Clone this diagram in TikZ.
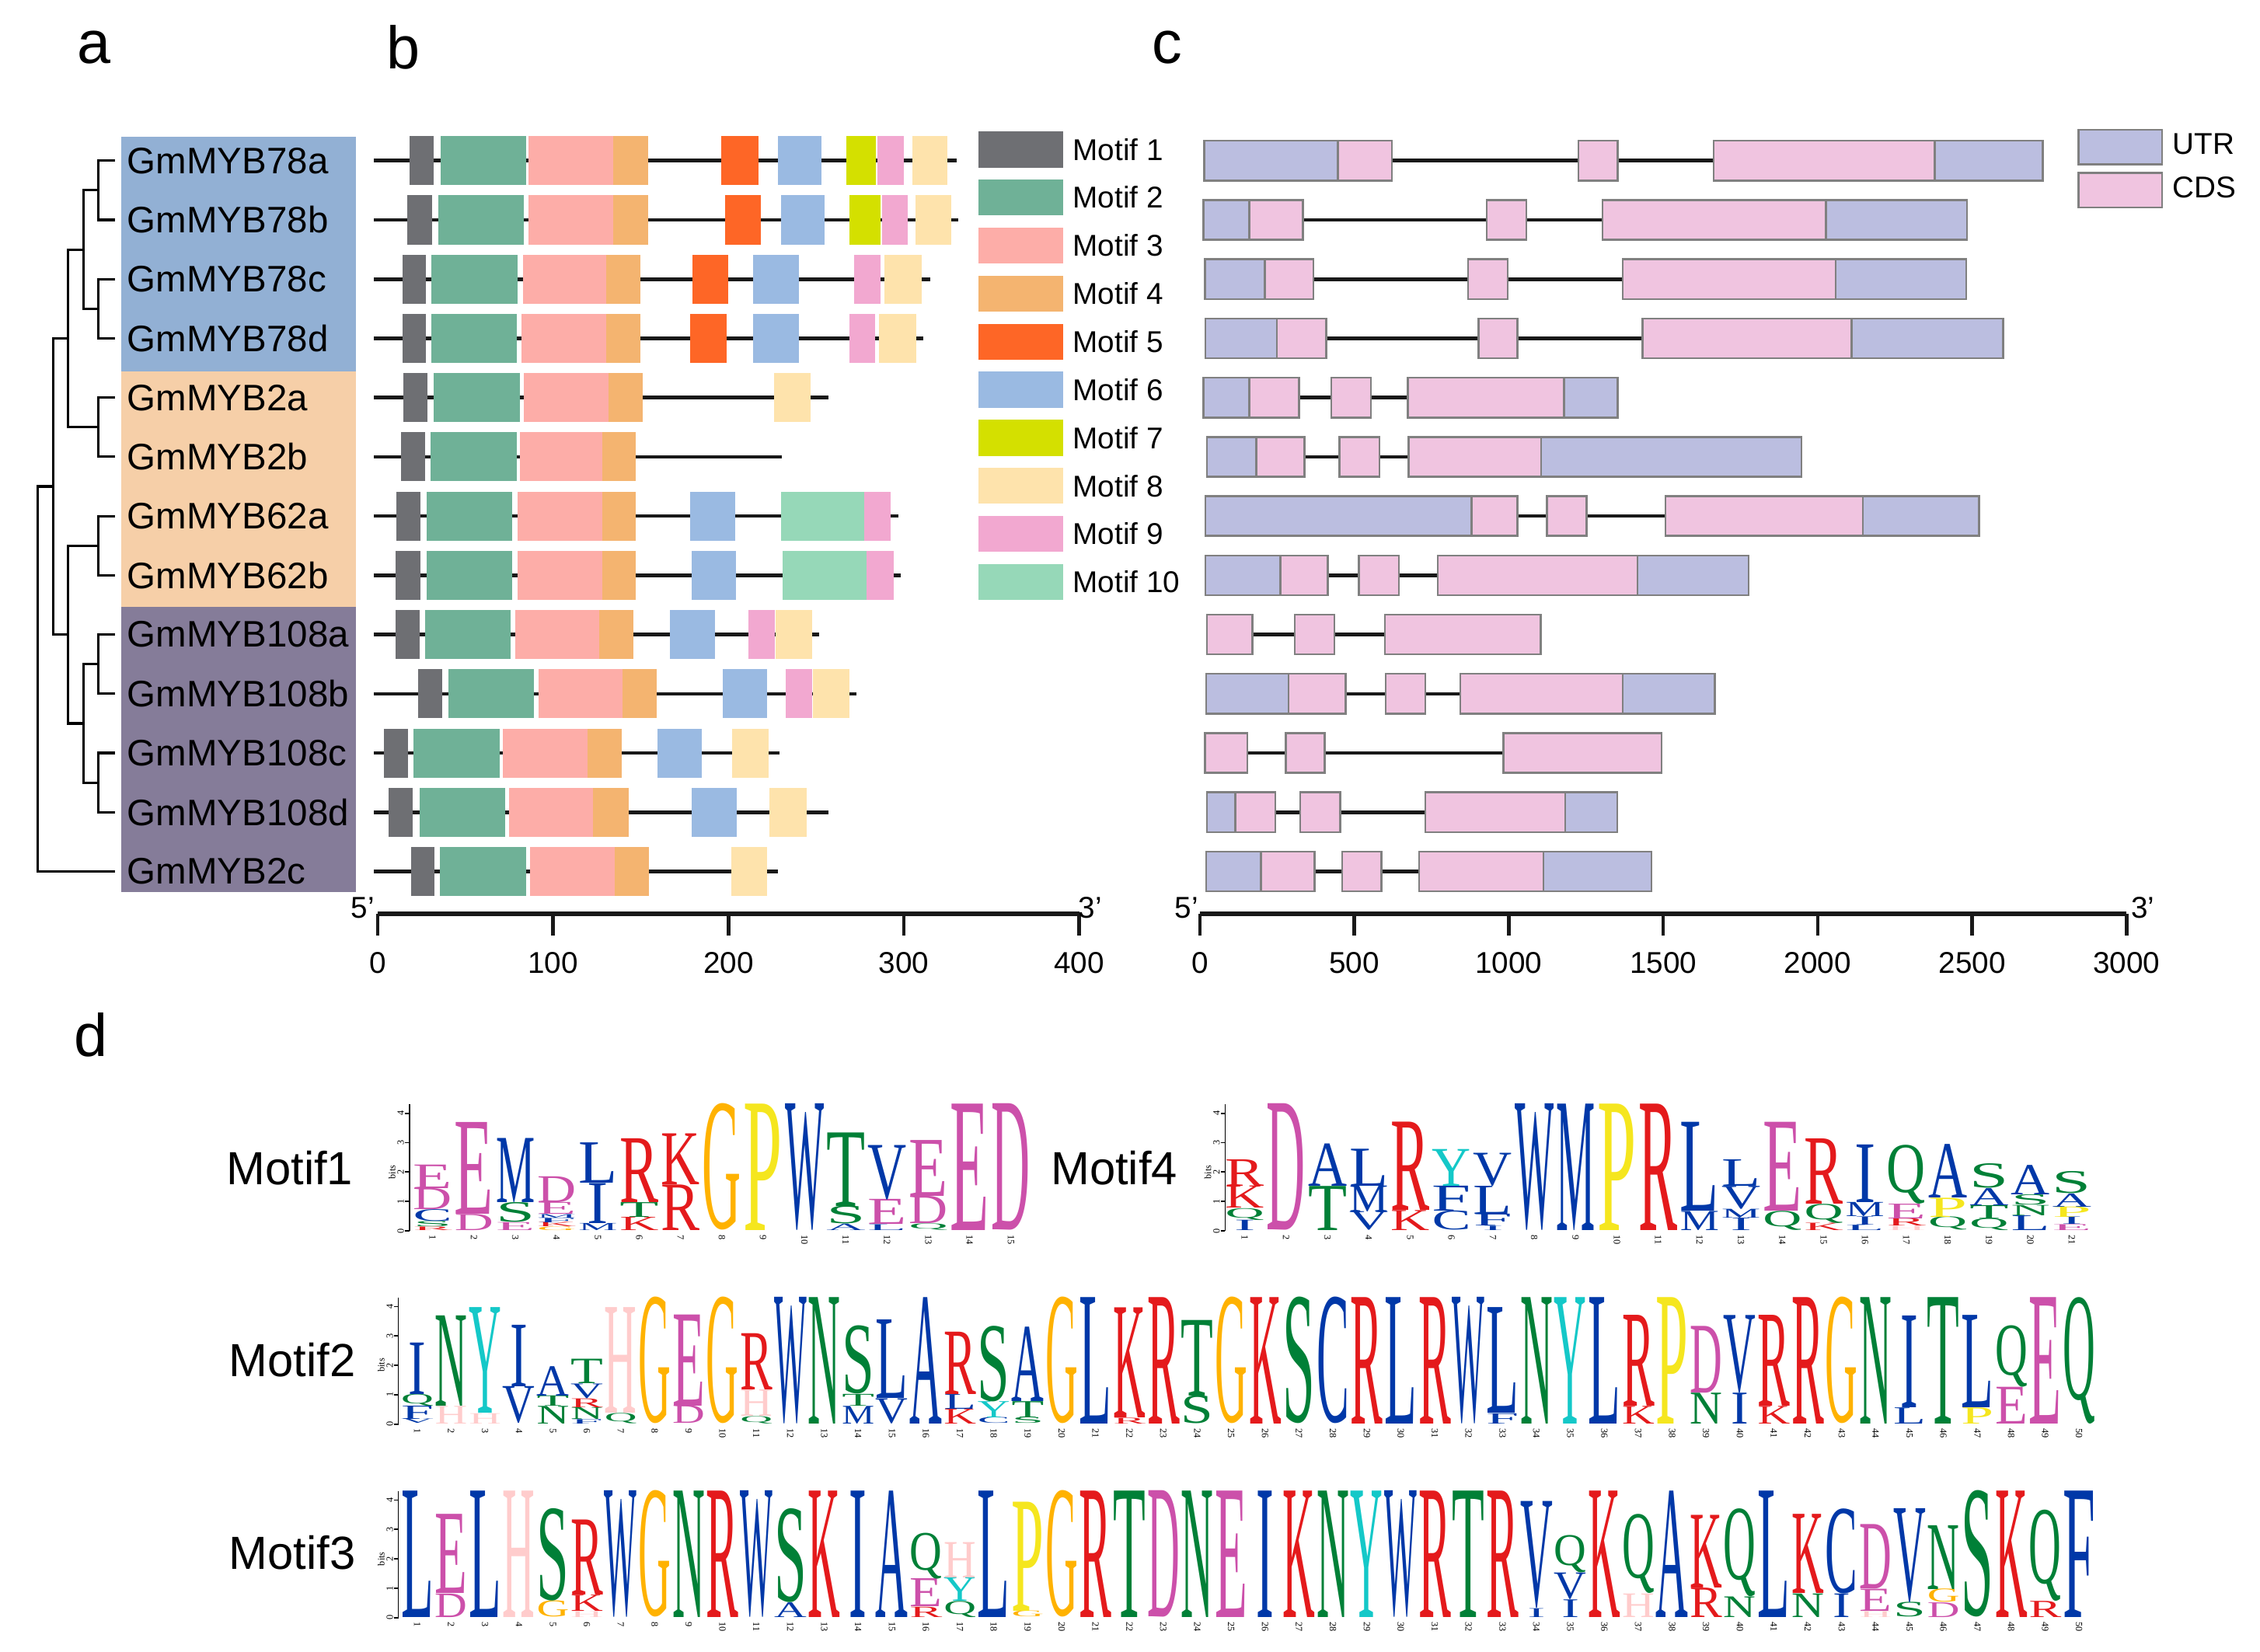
\documentclass[tikz,border=0pt]{standalone}
\usepackage{fontspec}
\setmainfont{Liberation Sans}
\newfontfamily\logofont{Liberation Serif}
\usepackage{graphicx}

% motif colours
\definecolor{motif1}{RGB}{110,111,115}
\definecolor{motif2}{RGB}{111,177,151}
\definecolor{motif3}{RGB}{253,173,168}
\definecolor{motif4}{RGB}{244,180,112}
\definecolor{motif5}{RGB}{254,102,38}
\definecolor{motif6}{RGB}{154,186,226}
\definecolor{motif7}{RGB}{212,224,0}
\definecolor{motif8}{RGB}{254,227,172}
\definecolor{motif9}{RGB}{242,168,208}
\definecolor{motif10}{RGB}{150,216,184}
\definecolor{utr}{RGB}{187,190,224}
\definecolor{cds}{RGB}{240,196,224}
\definecolor{cladeblue}{RGB}{146,176,212}
\definecolor{cladeorange}{RGB}{246,207,168}
\definecolor{cladepurple}{RGB}{133,124,153}
% residue colours
\definecolor{resblue}{RGB}{0,56,168}
\definecolor{resgreen}{RGB}{0,128,55}
\definecolor{resred}{RGB}{228,26,28}
\definecolor{respink}{RGB}{204,80,170}
\colorlet{aaA}{resblue}\colorlet{aaC}{resblue}\colorlet{aaF}{resblue}
\colorlet{aaI}{resblue}\colorlet{aaL}{resblue}\colorlet{aaM}{resblue}
\colorlet{aaV}{resblue}\colorlet{aaW}{resblue}
\colorlet{aaN}{resgreen}\colorlet{aaQ}{resgreen}\colorlet{aaS}{resgreen}\colorlet{aaT}{resgreen}
\colorlet{aaK}{resred}\colorlet{aaR}{resred}
\colorlet{aaD}{respink}\colorlet{aaE}{respink}
\definecolor{aaG}{RGB}{255,178,0}
\definecolor{aaP}{RGB}{245,230,30}
\definecolor{aaY}{RGB}{20,200,200}
\definecolor{aaH}{RGB}{255,204,204}

\newlength\colw
\newlength\bitlen
\setlength\bitlen{0.37834cm}
\def\padI{0.14em}
\newcommand\aaglyph[1]{\ifcsname pad#1\endcsname\hspace{\csname pad#1\endcsname}#1\hspace{\csname pad#1\endcsname}\else#1\fi}
\newcommand\logoat[3]{\gdef\lgx{#1}\gdef\lgy{#2}\gdef\lgdx{#3}}
% one logo column, letters from bottom to top
\newcommand\lc[2]{%
  \gdef\lcbase{0}%
  \foreach \ltr/\hgt in {#2}{%
    \node[anchor=south,inner sep=0pt,text=aa\ltr] at ({\lgx+(#1-1)*\lgdx},{\lgy-\lcbase*20.4})
      {\resizebox*{\colw}{\hgt\bitlen}{\logofont\aaglyph{\ltr}}};
    \pgfmathsetmacro\lcnext{\lcbase+\hgt}\xdef\lcbase{\lcnext}%
  }%
  \node[posnum] at ({\lgx+(#1-1)*\lgdx},{\lgy+2}) {#1};
}
\newcommand\logoaxis[1]{%
  \draw[logoaxis] (#1,\lgy) -- (#1,{\lgy-4.3*20.4});
  \foreach \b in {0,...,4}{
    \draw[logoaxis] (#1,{\lgy-\b*20.4}) -- ++(-3,0);
    \node[bitnum] at ({#1-6},{\lgy-\b*20.4}) {\b};
  }
  \node[bitnum] at ({#1-12},{\lgy-2*20.4}) {bits};
}

\tikzset{
  tree/.style={line width=0.9pt},
  gene/.style={anchor=west,inner sep=0pt,font=\fontsize{13.5}{16}\selectfont},
  intron/.style={line width=1.3pt,color=black!90},
  exon/.style={draw=black!50,line width=0.7pt},
  axisline/.style={line width=1.7pt,color=black!90},
  axistick/.style={line width=1.3pt,color=black!90},
  ticklabel/.style={font=\fontsize{11}{13}\selectfont,inner sep=0pt},
  legendtext/.style={anchor=west,inner sep=0pt,font=\fontsize{11}{13}\selectfont},
  panel/.style={font=\fontsize{22}{26}\selectfont,inner sep=0pt},
  logoname/.style={font=\fontsize{17}{20}\selectfont,inner sep=0pt},
  bitnum/.style={rotate=90,inner sep=0pt,font=\fontsize{3.5}{4}\logofont},
  posnum/.style={rotate=-90,anchor=west,inner sep=0.4pt,font=\fontsize{3.5}{4}\logofont},
  logoaxis/.style={line width=0.5pt}
}

\begin{document}
\begin{tikzpicture}[x=0.018546cm,y=-0.018546cm]
\useasboundingbox (0,0) rectangle (1568,1146);

% panel letters
\node[panel] (pa) at (65,33) {a};
\node[panel] (pb) at (280,33) {b};
\node[panel] (pc) at (810,33) {c};
\node[panel] (pd) at (63,718) {d};

% clade boxes
\fill[cladeblue] (84,95) rectangle (247,258);
\fill[cladeorange] (84,258) rectangle (247,421);
\fill[cladepurple] (84,421) rectangle (247,619);

% gene names and tree tips
\foreach \name [count=\i] in {GmMYB78a,GmMYB78b,GmMYB78c,GmMYB78d,GmMYB2a,GmMYB2b,GmMYB62a,GmMYB62b,GmMYB108a,GmMYB108b,GmMYB108c,GmMYB108d,GmMYB2c}{
  \pgfmathsetmacro\yy{111.5+41.1*(\i-1)}
  \node[gene] (g\i) at (88,\yy) {\name};
  \coordinate (t\i) at (80,\yy);
}

% tree
\coordinate (n1) at (68.4,132.05);
\coordinate (n2) at (68.4,214.25);
\coordinate (n3) at (57.9,173.15);
\coordinate (n4) at (68.4,296.45);
\coordinate (n5) at (47,234.8);
\coordinate (n6) at (68.4,378.65);
\coordinate (n7) at (68.4,460.85);
\coordinate (n8) at (68.4,543.05);
\coordinate (n9) at (57.9,501.95);
\coordinate (n10) at (47,440.3);
\coordinate (n11) at (36.8,337.55);
\coordinate (n12) at (26,471.1);
\foreach \p/\c in {n1/t1,n1/t2,n2/t3,n2/t4,n3/n1,n3/n2,n4/t5,n4/t6,n5/n3,n5/n4,
  n6/t7,n6/t8,n7/t9,n7/t10,n8/t11,n8/t12,n9/n7,n9/n8,n10/n6,n10/n9,
  n11/n5,n11/n10,n12/n11,n12/t13}
  \draw[tree] (\p) |- (\c);

% b: conserved motifs
\begin{scope}[shift={(262,0)},xscale=1.217]
\foreach \i/\len/\mlist in {
  1/330/{1/18/32,2/36/84.5,3/86/134.5,4/134.5/154,5/196/217,6/228/253,7/267/284,9/285/300,8/305/325},
  2/331/{1/17/31,2/34.5/83.5,3/86/134.5,4/134.5/154,5/198/218.5,6/230/255,7/269/286.5,9/287.5/302,8/306.5/327},
  3/315/{1/14/27.5,2/30.5/79.7,3/82.7/130.5,4/130.5/150,5/179.5/200,6/214/240,9/271.5/286.5,8/289/310},
  4/311/{1/14/27.5,2/30.5/79.2,3/82.2/130.5,4/130.5/150,5/178/199,6/214/240,9/269/283.5,8/286/307},
  5/257/{1/14.7/28.4,2/32/81,3/83.2/131.7,4/131.7/151.3,8/226/246.7},
  6/230.5/{1/13.2/27,2/30.2/79.2,3/81/128,4/128/147.2},
  7/297/{1/10.7/24.4,2/28/76.6,3/79.7/128,4/128/147,6/178.2/203.8,10/230/277.4,9/277.4/292.4},
  8/298/{1/10.2/24.4,2/28/76.6,3/79.7/128,4/128/147,6/179.2/204.3,10/231/278.7,9/278.7/294.2},
  9/251.5/{1/10.2/24,2/27/75.6,3/78.4/126.4,4/126.4/146,6/166.8/192.4,9/211.4/226.4,8/227/247.7},
  10/273/{1/23/36.8,2/40.4/89.3,3/91.6/139.6,4/139.6/159,6/196.7/222,9/232.7/247.7,8/248.2/268.8},
  11/229/{1/3.6/17.3,2/20.3/69.5,3/71.3/119.5,4/119.5/139.3,6/159.6/184.8,8/202/222.8},
  12/257/{1/6.3/20,2/24/72.6,3/75/122.8,4/122.8/143,6/179.2/204.8,8/223.4/244.7},
  13/228/{1/19/32.2,2/35.5/84.5,3/86.8/135,4/135/154.8,8/201.8/222}}{
  \pgfmathsetmacro\yy{111.5+41.1*(\i-1)}
  \draw[intron] (-2,\yy) -- (\len,\yy);
  \foreach \m/\s/\e in \mlist
    \fill[motif\m] (\s,\yy-17) rectangle (\e,\yy+17);
}
\draw[axisline] (0,634) -- (400,634);
\foreach \v in {0,100,...,400}{
  \draw[axistick] (\v,634) -- (\v,649);
  \node[ticklabel] (bt\v) at (\v,668) {\v};
}
\end{scope}
\node[ticklabel] (b5) at (251.6,630) {5'};
\node[ticklabel] (b3) at (756.5,630) {3'};

% motif legend
\foreach \k in {1,...,10}{
  \pgfmathsetmacro\ly{103.7+33.35*(\k-1)}
  \fill[motif\k] (679,\ly-12.5) rectangle (737.4,\ly+12.5);
  \node[legendtext] (leg\k) at (744,\ly) {Motif \k};
}

% c: gene structures
\begin{scope}[shift={(832.5,0)},xscale=0.2143]
\foreach \i/\st/\len/\glist in {
  1/14/2729/{utr/14/447,cds/447/621,cds/1225/1353,cds/1663/2379,utr/2379/2729},
  2/11/2483/{utr/11/160,cds/160/334,cds/929/1057,cds/1304/2027,utr/2027/2483},
  3/16/2481/{utr/16/210,cds/210/368,cds/868/996,cds/1369/2058,utr/2058/2481},
  4/18/2600/{utr/18/249,cds/249/409,cds/902/1028,cds/1433/2110,utr/2110/2600},
  5/11/1353/{utr/11/160,cds/160/321,cds/425/554,cds/673/1179,utr/1179/1353},
  6/23/1948/{utr/23/183,cds/183/339,cds/452/581,cds/676/1105,utr/1105/1948},
  7/18/2522/{utr/18/879,cds/879/1028,cds/1123/1252,cds/1507/2146,utr/2146/2522},
  8/18/1776/{utr/18/260,cds/260/414,cds/515/644,cds/770/1417,utr/1417/1776},
  9/23/1103/{cds/23/170,cds/307/436,cds/599/1103},
  10/20/1667/{utr/20/287,cds/287/472,cds/601/730,cds/843/1369,utr/1369/1667},
  11/16/1494/{cds/16/154,cds/278/404,cds/983/1494},
  12/23/1351/{utr/23/115,cds/115/244,cds/325/454,cds/730/1182,utr/1182/1351},
  13/20/1462/{utr/20/197,cds/197/371,cds/461/588,cds/710/1112,utr/1112/1462}}{
  \pgfmathsetmacro\yy{111.5+41.1*(\i-1)}
  \draw[intron] (\st,\yy) -- (\len,\yy);
  \foreach \kind/\s/\e in \glist
    \filldraw[exon,fill=\kind] (\s,\yy-13.8) rectangle (\e,\yy+13.8);
}
\draw[axisline] (0,634) -- (3000,634);
\foreach \v in {0,500,...,3000}{
  \draw[axistick] (\v,634) -- (\v,649);
  \node[ticklabel] (ct\v) at (\v,668) {\v};
}
\end{scope}
\node[ticklabel] (c5) at (823.3,630) {5'};
\node[ticklabel] (c3) at (1486.7,630) {3'};

% UTR / CDS key
\filldraw[exon,fill=utr] (1442,90) rectangle (1500,114);
\node[legendtext] (utrkey) at (1507,100) {UTR};
\filldraw[exon,fill=cds] (1442,120) rectangle (1500,144);
\node[legendtext] (cdskey) at (1507,130) {CDS};

% d: sequence logos
\node[logoname] (l1) at (201,810.6) {Motif1};
\setlength\colw{0.5007cm}
\logoat{300.2}{854.1}{28.66}
\logoaxis{284}
\lc{1}{R/0.12,S/0.18,C/0.4,D/0.72,E/0.8}
\lc{2}{D/0.55,E/3.12}
\lc{3}{E/0.27,S/0.67,M/2.18}
\lc{4}{G/0.12,K/0.15,F/0.15,M/0.12,E/0.4,D/0.88}
\lc{5}{M/0.24,I/1.36,L/1.37}
\lc{6}{K/0.45,T/0.5,R/2.17}
\lc{7}{R/1.55,K/1.73}
\lc{8}{G/4.3}
\lc{9}{P/4.3}
\lc{10}{W/4.3}
\lc{11}{A/0.22,S/0.6,T/2.5}
\lc{12}{L/0.2,E/0.85,V/1.85}
\lc{13}{Q/0.22,D/0.93,E/1.9}
\lc{14}{E/4.3}
\lc{15}{D/4.3}

\node[logoname] (l4) at (773,810.6) {Motif4};
\logoat{863.6}{854.1}{28.69}
\logoaxis{850}
\lc{1}{I/0.35,Q/0.4,K/0.75,R/0.9}
\lc{2}{D/4.3}
\lc{3}{T/1.5,A/1.44}
\lc{4}{V/0.63,M/0.88,L/1.26}
\lc{5}{K/0.68,R/3.0}
\lc{6}{C/0.65,F/0.85,Y/1.25}
\lc{7}{I/0.15,F/0.4,L/0.95,V/1.12}
\lc{8}{W/4.3}
\lc{9}{M/4.3}
\lc{10}{P/4.3}
\lc{11}{R/4.3}
\lc{12}{M/0.65,L/3.02}
\lc{13}{I/0.42,M/0.3,V/0.78,L/0.9}
\lc{14}{Q/0.65,E/3.02}
\lc{15}{K/0.25,Q/0.65,R/2.22}
\lc{16}{L/0.18,I/0.28,M/0.48,I/1.96}
\lc{17}{H/0.15,R/0.25,E/0.5,Q/2.0}
\lc{18}{Q/0.45,P/0.65,A/1.82}
\lc{19}{Q/0.4,T/0.45,A/0.58,S/0.83}
\lc{20}{L/0.5,N/0.35,S/0.35,A/1.0}
\lc{21}{E/0.2,I/0.25,P/0.35,A/0.45,S/0.75}

\node[logoname] (l2) at (202.8,943.6) {Motif2};
\setlength\colw{0.4173cm}
\logoat{289.5}{988.2}{23.53}
\logoaxis{276.4}
\lc{1}{V/0.15,F/0.45,Q/0.4,I/1.75}
\lc{2}{H/0.6,N/3.07}
\lc{3}{H/0.35,Y/3.59}
\lc{4}{V/1.25,I/2.09}
\lc{5}{N/0.6,T/0.35,A/1.0}
\lc{6}{F/0.15,N/0.4,R/0.3,V/0.5,T/0.83}
\lc{7}{Q/0.35,H/3.59}
\lc{8}{G/4.3}
\lc{9}{D/0.6,E/3.1}
\lc{10}{G/4.3}
\lc{11}{Q/0.25,H/0.9,R/1.91}
\lc{12}{W/4.3}
\lc{13}{N/4.3}
\lc{14}{M/0.6,T/0.4,S/2.32}
\lc{15}{V/0.85,L/2.67}
\lc{16}{A/4.3}
\lc{17}{K/0.5,L/0.5,R/2.12}
\lc{18}{C/0.2,Y/0.55,S/2.57}
\lc{19}{S/0.2,T/0.55,A/2.53}
\lc{20}{G/4.3}
\lc{21}{L/4.3}
\lc{22}{R/0.2,K/3.74}
\lc{23}{R/4.3}
\lc{24}{S/0.95,T/2.57}
\lc{25}{G/4.3}
\lc{26}{K/4.3}
\lc{27}{S/4.3}
\lc{28}{C/4.3}
\lc{29}{R/4.3}
\lc{30}{L/4.3}
\lc{31}{R/4.3}
\lc{32}{W/4.3}
\lc{33}{F/0.35,L/3.59}
\lc{34}{N/4.3}
\lc{35}{Y/4.3}
\lc{36}{L/4.3}
\lc{37}{K/0.6,R/3.09}
\lc{38}{P/4.3}
\lc{39}{N/1.05,D/2.27}
\lc{40}{I/1.05,V/2.64}
\lc{41}{K/0.6,R/3.09}
\lc{42}{R/4.3}
\lc{43}{G/4.3}
\lc{44}{N/4.3}
\lc{45}{L/0.55,I/3.12}
\lc{46}{T/4.3}
\lc{47}{P/0.55,L/3.14}
\lc{48}{E/1.25,Q/2.09}
\lc{49}{E/4.3}
\lc{50}{Q/4.3}

\node[logoname] (l3) at (202.8,1077.5) {Motif3};
\logoat{289.5}{1122.5}{23.53}
\logoaxis{276.4}
\lc{1}{L/4.3}
\lc{2}{D/0.8,E/2.69}
\lc{3}{L/4.3}
\lc{4}{H/4.3}
\lc{5}{G/0.55,S/3.14}
\lc{6}{H/0.2,K/0.55,R/2.55}
\lc{7}{W/4.3}
\lc{8}{G/4.3}
\lc{9}{N/4.3}
\lc{10}{R/4.3}
\lc{11}{W/4.3}
\lc{12}{A/0.5,S/3.19}
\lc{13}{K/4.3}
\lc{14}{I/4.3}
\lc{15}{A/4.3}
\lc{16}{R/0.35,E/0.95,Q/1.56}
\lc{17}{Q/0.55,Y/0.8,H/1.2}
\lc{18}{L/4.3}
\lc{19}{G/0.2,P/3.71}
\lc{20}{G/4.3}
\lc{21}{R/4.3}
\lc{22}{T/4.3}
\lc{23}{D/4.3}
\lc{24}{N/4.3}
\lc{25}{E/4.3}
\lc{26}{I/4.3}
\lc{27}{K/4.3}
\lc{28}{N/4.3}
\lc{29}{Y/4.3}
\lc{30}{W/4.3}
\lc{31}{R/4.3}
\lc{32}{T/4.3}
\lc{33}{R/4.3}
\lc{34}{I/0.3,V/3.63}
\lc{35}{I/0.6,V/0.9,Q/1.27}
\lc{36}{K/4.3}
\lc{37}{H/0.8,Q/2.69}
\lc{38}{A/4.3}
\lc{39}{R/1.0,K/2.47}
\lc{40}{N/0.7,Q/2.99}
\lc{41}{L/4.3}
\lc{42}{N/0.8,K/2.69}
\lc{43}{I/0.8,C/2.89}
\lc{44}{H/0.2,E/0.75,D/2.19}
\lc{45}{S/0.5,V/3.19}
\lc{46}{D/0.5,G/0.45,N/2.17}
\lc{47}{S/4.3}
\lc{48}{K/4.3}
\lc{49}{R/0.55,Q/3.1}
\lc{50}{F/4.3}
\end{tikzpicture}
\end{document}
